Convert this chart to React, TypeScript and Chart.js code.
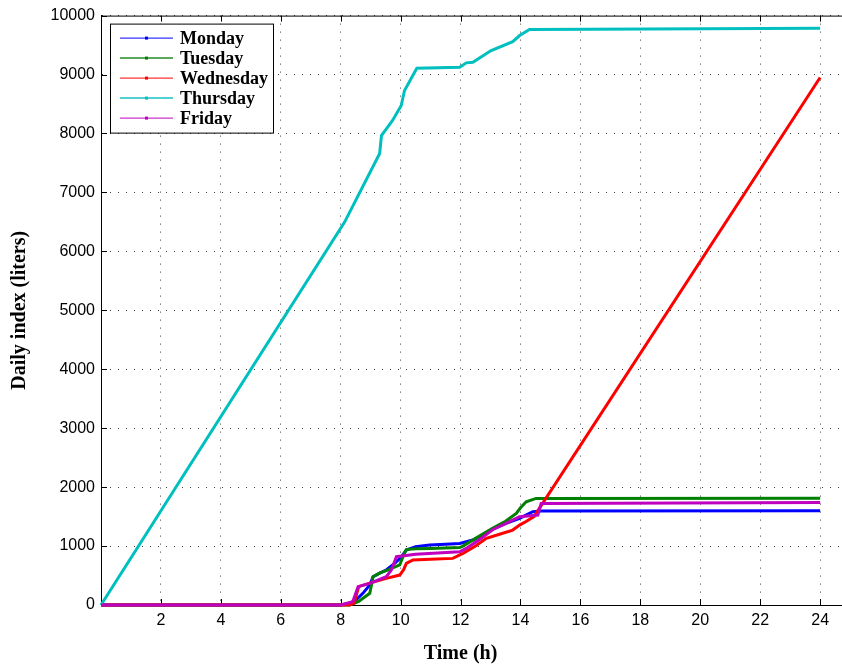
import React, { useEffect, useRef } from 'react';
import { Chart, registerables } from 'chart.js';

Chart.register(...registerables);

// ---- data ----
const seriesNames = ['Monday', 'Tuesday', 'Wednesday', 'Thursday', 'Friday'];
const seriesColors = ['#0000ff', '#008000', '#ff0000', '#00bfbf', '#bf00bf'];
const legendLineColors = ['#0000ff', '#5aa85a', '#ff0000', '#55d0d0', '#bf00bf'];

const mondayT = [0, 8.0, 8.3, 8.5, 8.74, 8.97, 9.08, 9.3, 9.52, 9.8, 10.0, 10.19, 10.5, 10.97, 11.5, 11.97, 12.41, 12.8, 13.08, 13.5, 13.97, 14.2, 14.41, 14.7, 24];
const mondayV = [0, 0, 30, 80, 198, 340, 480, 540, 593, 706, 800, 932, 990, 1017, 1030, 1045, 1102, 1200, 1288, 1380, 1469, 1530, 1582, 1595, 1600];

const tuesdayT = [0, 8.3, 8.6, 8.97, 9.08, 9.3, 9.6, 9.97, 10.1, 10.19, 10.5, 11.0, 11.97, 12.08, 12.5, 13.08, 13.5, 13.86, 14.0, 14.19, 14.52, 24];
const tuesdayV = [0, 0, 60, 198, 480, 540, 600, 680, 850, 940, 955, 960, 975, 1000, 1130, 1305, 1420, 1554, 1650, 1751, 1808, 1810];

const wednesdayT = [0, 8.3, 8.45, 8.6, 8.97, 9.52, 9.97, 10.1, 10.19, 10.41, 11.0, 11.74, 12.08, 12.5, 12.86, 13.3, 13.74, 13.97, 14.2, 14.45, 24];
const wednesdayV = [0, 0, 30, 311, 370, 452, 508, 600, 706, 763, 775, 791, 876, 1000, 1130, 1200, 1271, 1356, 1420, 1500, 8950];

const thursdayT = [0, 8.13, 9.3, 9.36, 9.73, 10.02, 10.13, 10.54, 11.97, 12.19, 12.41, 13.02, 13.74, 13.97, 14.3, 24];
const thursdayV = [0, 6497, 7660, 7966, 8220, 8475, 8730, 9107, 9124, 9198, 9209, 9407, 9559, 9661, 9763, 9785];

const fridayT = [0, 8.0, 8.4, 8.58, 8.97, 9.52, 9.69, 9.86, 10.5, 11.97, 12.19, 12.6, 13.08, 13.5, 13.97, 14.58, 14.69, 24];
const fridayV = [0, 0, 56, 311, 367, 480, 593, 819, 860, 904, 960, 1100, 1282, 1380, 1497, 1525, 1723, 1740];

const seriesT = [mondayT, tuesdayT, wednesdayT, thursdayT, fridayT];
const seriesV = [mondayV, tuesdayV, wednesdayV, thursdayV, fridayV];

const xTitle = 'Time (h)';
const yTitle = 'Daily index (liters)';
const xMin = 0;
const xMax = 24.73;
const xStep = 2;
const yMin = 0;
const yMax = 10000;
const yStep = 1000;

const framePlugin = {
  id: 'frame',
  beforeDatasetsDraw(chart: any) {
    const { ctx, chartArea: a, scales } = chart;
    ctx.save();
    ctx.strokeStyle = '#000';
    ctx.lineWidth = 1;
    ctx.beginPath();
    ctx.moveTo(a.left, a.top + 0.5);
    ctx.lineTo(a.right, a.top + 0.5);
    scales.x.ticks.forEach((t: any) => {
      const px = Math.round(scales.x.getPixelForValue(t.value)) + 0.5;
      ctx.moveTo(px, a.bottom);
      ctx.lineTo(px, a.bottom - 6);
      ctx.moveTo(px, a.top);
      ctx.lineTo(px, a.top + 6);
    });
    scales.y.ticks.forEach((t: any) => {
      const py = Math.round(scales.y.getPixelForValue(t.value)) + 0.5;
      ctx.moveTo(a.left, py);
      ctx.lineTo(a.left + 6, py);
    });
    ctx.stroke();
    ctx.fillStyle = '#000';
    ctx.font = 'bold 20px "Liberation Serif"';
    ctx.textAlign = 'center';
    ctx.textBaseline = 'middle';
    ctx.fillText(xTitle, scales.x.getPixelForValue(12), chart.height - 11);
    ctx.restore();
  },
};

const legendPlugin = {
  id: 'matlabLegend',
  afterDraw(chart: any) {
    const { ctx, chartArea: a } = chart;
    const bx = a.left + 9;
    const by = a.top + 8;
    const bw = 163;
    const bh = 109;
    ctx.save();
    ctx.fillStyle = '#fff';
    ctx.fillRect(bx, by, bw, bh);
    ctx.strokeStyle = '#000';
    ctx.lineWidth = 1;
    ctx.strokeRect(bx + 0.5, by + 0.5, bw, bh);
    ctx.font = 'bold 18px "Liberation Serif"';
    ctx.textAlign = 'left';
    ctx.textBaseline = 'middle';
    seriesNames.forEach((name, i) => {
      const y = by + 14.5 + i * 20;
      ctx.strokeStyle = legendLineColors[i];
      ctx.lineWidth = i === 1 || i === 3 ? 2 : 1;
      ctx.beginPath();
      ctx.moveTo(bx + 10, y);
      ctx.lineTo(bx + 63, y);
      ctx.stroke();
      ctx.fillStyle = seriesColors[i];
      ctx.fillRect(bx + 35, y - 1.5, 3, 3);
      ctx.fillStyle = '#000';
      ctx.fillText(name, bx + 70, y + 1);
    });
    ctx.restore();
  },
};

export default function App() {
  const ref = useRef<HTMLCanvasElement | null>(null);
  useEffect(() => {
    if (!ref.current) return;
    const datasets = seriesNames.map((name, i) => ({
      label: name,
      data: seriesT[i].map((t, j) => ({ x: t, y: seriesV[i][j] })),
      borderColor: seriesColors[i],
      backgroundColor: seriesColors[i],
      borderWidth: 3,
      pointRadius: 0,
      tension: 0,
      fill: false,
      clip: 4,
      order: 5 - i,
    }));
    const chart = new Chart(ref.current, {
      type: 'line',
      data: { datasets },
      options: {
        animation: false,
        responsive: false,
        devicePixelRatio: 1,
        layout: { padding: { top: 15, left: 0, right: 0, bottom: 0 } },
        plugins: { legend: { display: false }, tooltip: { enabled: false } },
        scales: {
          x: {
            type: 'linear',
            min: xMin,
            max: xMax,
            ticks: {
              stepSize: xStep,
              includeBounds: false,
              autoSkip: false,
              maxRotation: 0,
              padding: 6,
              color: '#000',
              font: { family: 'Liberation Sans', size: 16 },
              callback: (v: any) => (v === 0 ? '' : String(v)),
            },
            grid: { color: 'rgba(0,0,0,0.75)', lineWidth: 1, drawTicks: false },
            border: { display: true, color: '#000', width: 1, dash: [1, 7] },
            afterFit: (s: any) => { s.height = 60; },
          },
          y: {
            type: 'linear',
            min: yMin,
            max: yMax,
            ticks: {
              stepSize: yStep,
              padding: 6,
              color: '#000',
              font: { family: 'Liberation Sans', size: 16 },
              callback: (v: any) => String(v),
            },
            grid: { color: 'rgba(0,0,0,0.75)', lineWidth: 1, drawTicks: false },
            border: { display: true, color: '#000', width: 1, dash: [1, 7] },
            title: {
              display: true,
              text: yTitle,
              color: '#000',
              font: { family: 'Liberation Serif', size: 20, weight: 'bold' },
              padding: { top: 8, bottom: 0 },
            },
            afterFit: (s: any) => { s.width = 101; },
          },
        },
      },
      plugins: [framePlugin, legendPlugin],
    });
    return () => chart.destroy();
  }, []);
  return (
    <div style={{ position: 'absolute', left: 0, top: 0, width: 842, height: 665, background: '#fff' }}>
      <canvas ref={ref} width={842} height={665} style={{ display: 'block' }} />
    </div>
  );
}
